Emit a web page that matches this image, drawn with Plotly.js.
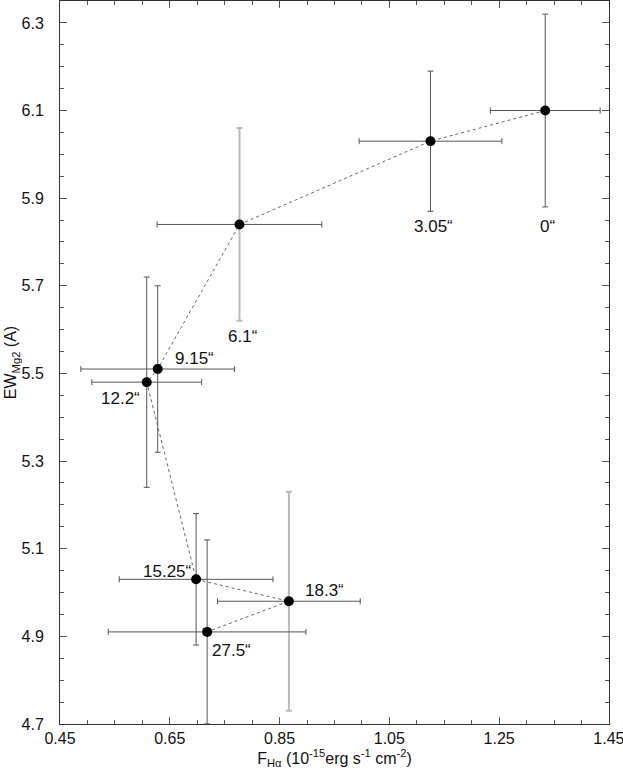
<!DOCTYPE html>
<html>
<head>
<meta charset="utf-8">
<script src="https://cdn.plot.ly/plotly-3.0.1.min.js"></script>
<style>html,body{margin:0;padding:0;background:#fff;}#chart{width:623px;height:772px;}</style>
</head>
<body>
<div id="chart"></div>
<script>
// Data
const labels = ['0\u201C', '3.05\u201C', '6.1\u201C', '9.15\u201C', '12.2\u201C', '15.25\u201C', '18.3\u201C', '27.5\u201C'];
const fluxHa = [1.334, 1.125, 0.777, 0.628, 0.608, 0.698, 0.867, 0.718];
const ewMg2  = [6.10, 6.03, 5.84, 5.51, 5.48, 5.03, 4.98, 4.91];
const fluxErr = [0.10, 0.13, 0.15, 0.14, 0.10, 0.14, 0.13, 0.18];
const ewErr   = [0.22, 0.16, 0.22, 0.19, 0.24, 0.15, 0.25, 0.21];
const lightErrLabels = ['6.1\u201C', '18.3\u201C'];
const xTickVals = [0.45, 0.65, 0.85, 1.05, 1.25, 1.45];
const xTickText = ['0.45', '0.65', '0.85', '1.05', '1.25', '1.45'];
const yTickVals = [4.7, 4.9, 5.1, 5.3, 5.5, 5.7, 5.9, 6.1, 6.3];
const yTickText = ['4.7', '4.9', '5.1', '5.3', '5.5', '5.7', '5.9', '6.1', '6.3'];
// label offsets (px) relative to each point
const labelDx = [2, 3, 4, 37, -26, -29, 36, 24];
const labelDy = [-116, -85, -112, 11, -16, 8, 11, -19];

const FONT = 'Liberation Sans, Arial, Helvetica, sans-serif';
const traces = [];
traces.push({
  x: fluxHa, y: ewMg2, mode: 'lines', type: 'scatter', hoverinfo: 'skip',
  line: {color: '#666', width: 1, dash: 'dot'}, showlegend: false
});
labels.forEach((lab, i) => {
  const light = lightErrLabels.includes(lab);
  traces.push({
    x: [fluxHa[i]], y: [ewMg2[i]], mode: 'markers', type: 'scatter', showlegend: false,
    marker: {color: '#000', size: 10},
    error_x: {type: 'data', array: [fluxErr[i]], visible: true, color: '#555', thickness: 1, width: 3},
    error_y: {type: 'data', array: [ewErr[i]], visible: true,
              color: light ? '#bbb' : '#555', thickness: light ? 2 : 1, width: 3}
  });
});

const annotations = labels.map((lab, i) => ({
  x: fluxHa[i], y: ewMg2[i], xref: 'x', yref: 'y', text: lab, showarrow: false,
  xshift: labelDx[i], yshift: labelDy[i], font: {family: FONT, size: 17, color: '#111'}
}));

const axisCommon = {
  showgrid: false, zeroline: false, showline: true, linecolor: '#333', linewidth: 1,
  mirror: 'ticks', ticks: 'inside', ticklen: 7, tickcolor: '#555', tickwidth: 1,
  tickfont: {family: FONT, size: 16, color: '#111'}, tickmode: 'array',
  ticklabeloverflow: 'allow'
};

const layout = {
  width: 623, height: 772,
  margin: {l: 60, r: 14, t: 1, b: 48},
  paper_bgcolor: '#fff', plot_bgcolor: '#fff',
  font: {family: FONT, size: 16, color: '#111'},
  xaxis: Object.assign({}, axisCommon, {
    range: [0.45, 1.4502], tickvals: xTickVals, ticktext: xTickText,
    minor: {dtick: 0.05, tick0: 0.45, ticks: 'inside', ticklen: 4, tickcolor: '#555'},
    title: {text: 'F<sub>H\u03B1</sub> (10<sup>-15</sup>erg s<sup>-1</sup> cm<sup>-2</sup>)',
            font: {family: FONT, size: 16, color: '#111'}, standoff: 0}
  }),
  yaxis: Object.assign({}, axisCommon, {
    range: [4.6998, 6.35], tickvals: yTickVals, ticktext: yTickText,
    ticklabelstandoff: 12,
    minor: {dtick: 0.05, tick0: 4.7, ticks: 'inside', ticklen: 4, tickcolor: '#555'},
    title: {text: 'EW<sub>Mg2</sub> (A)', font: {family: FONT, size: 16, color: '#111'}, standoff: 0}
  }),
  annotations: annotations
};

Plotly.newPlot('chart', traces, layout, {displayModeBar: false, staticPlot: true});
</script>
</body>
</html>
